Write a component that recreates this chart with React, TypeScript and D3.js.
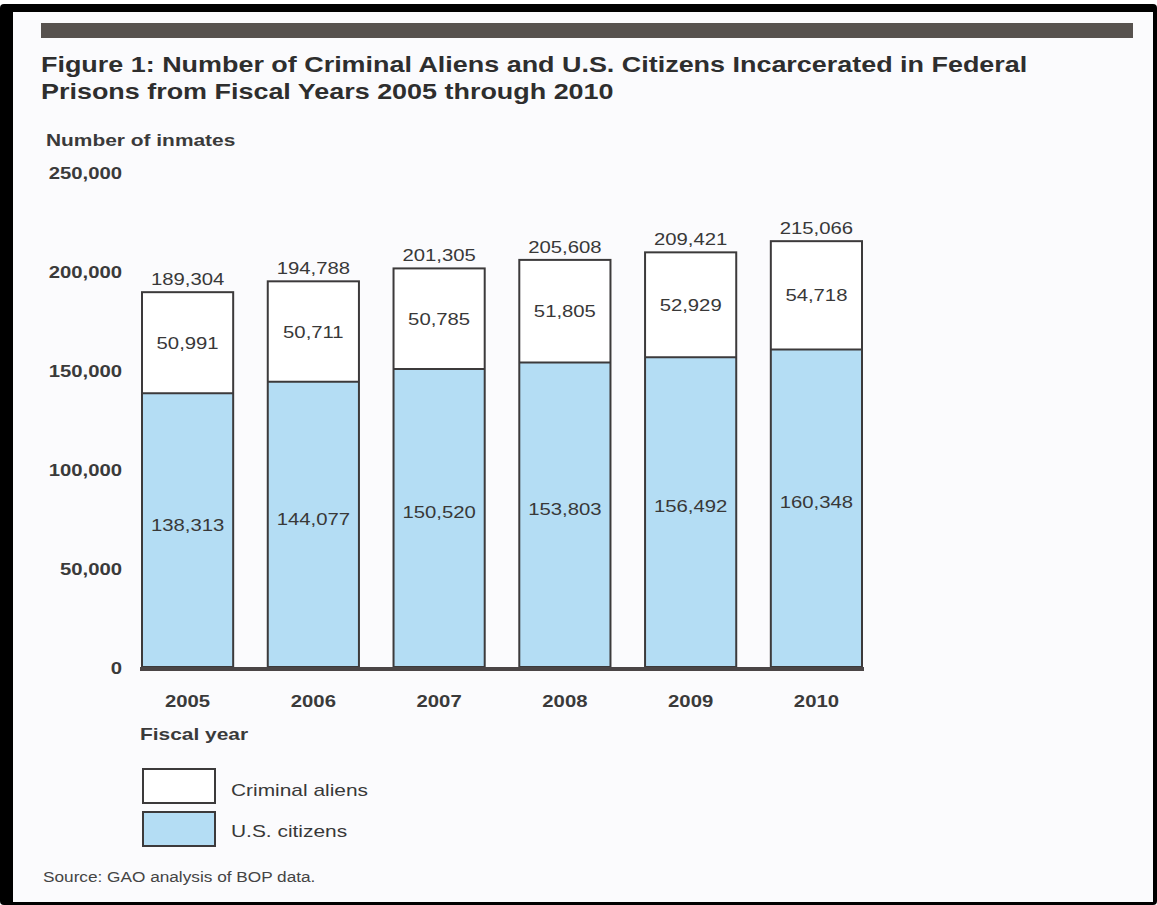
import React from "react";
import * as d3 from "d3";

const years = ["2005", "2006", "2007", "2008", "2009", "2010"];
const citizens = [138313, 144077, 150520, 153803, 156492, 160348];
const aliens = [50991, 50711, 50785, 51805, 52929, 54718];
const yTicks = [0, 50000, 100000, 150000, 200000, 250000];

const titleLines = [
  "Figure 1: Number of Criminal Aliens and U.S. Citizens Incarcerated in Federal",
  "Prisons from Fiscal Years 2005 through 2010",
];

const W = 1157;
const H = 905;
const SX = 1.23;
const FONT = "'Liberation Sans', Arial, Helvetica, sans-serif";
const TXT = "#383838";
const BLUE = "#b4ddf4";
const STROKE = "#3c3a3b";

function T({ x, y, children, size = 16, weight = 400, anchor = "start", fill = TXT }: any) {
  return (
    <text
      transform={`translate(${x},${y}) scale(${SX},1)`}
      fontFamily={FONT}
      fontSize={size}
      fontWeight={weight}
      textAnchor={anchor}
      fill={fill}
    >
      {children}
    </text>
  );
}

export default function App() {
  const y = d3.scaleLinear().domain([0, 250000]).range([667, 172]);
  const x = d3.scaleBand<string>().domain(years).range([142, 862]).paddingInner(0.275).paddingOuter(0);
  const fmt = d3.format(",");
  const bw = x.bandwidth();

  return (
    <svg width={W} height={H} style={{ position: "absolute", left: 0, top: 0, display: "block" }}>
      <rect x={0} y={0} width={W} height={H} fill="#ffffff" />
      <rect x={0} y={4} width={W} height={H - 4} fill="#000000" rx={4} />
      <rect x={13} y={12} width={1140} height={890} fill="#fbfbfd" />
      <rect x={41} y={23} width={1092} height={15} fill="#57524f" />

      {titleLines.map((t, i) => (
        <T key={t} x={41} y={72 + i * 27} size={21.9} weight={700} fill="#2e2e2e">
          {t}
        </T>
      ))}

      <T x={46} y={146} size={17} weight={700} fill="#3a3a3a">
        Number of inmates
      </T>

      {yTicks.map((v) => (
        <T key={v} x={122} y={y(v) + 7} size={16.5} weight={700} anchor="end" fill="#3a3a3a">
          {fmt(v)}
        </T>
      ))}

      {years.map((yr, i) => {
        const x0 = x(yr)!;
        const total = citizens[i] + aliens[i];
        return (
          <g key={yr}>
            <rect x={x0} y={y(citizens[i])} width={bw} height={y(0) - y(citizens[i])} fill={BLUE} />
            <rect x={x0} y={y(total)} width={bw} height={y(citizens[i]) - y(total)} fill="#ffffff" />
            <rect x={x0} y={y(total)} width={bw} height={y(0) - y(total)} fill="none" stroke={STROKE} strokeWidth={2} />
            <line x1={x0} x2={x0 + bw} y1={y(citizens[i])} y2={y(citizens[i])} stroke={STROKE} strokeWidth={2} />
            <T x={x0 + bw / 2} y={y(total) - 7} size={16.5} anchor="middle">
              {fmt(total)}
            </T>
            <T x={x0 + bw / 2} y={(y(total) + y(citizens[i])) / 2 + 6} size={16.5} anchor="middle">
              {fmt(aliens[i])}
            </T>
            <T x={x0 + bw / 2} y={y(citizens[i] * 0.52) + 6} size={16.5} anchor="middle">
              {fmt(citizens[i])}
            </T>
            <T x={x0 + bw / 2} y={707} size={16.5} weight={700} anchor="middle" fill="#3a3a3a">
              {yr}
            </T>
          </g>
        );
      })}

      <line x1={140} x2={864} y1={y(0) + 2} y2={y(0) + 2} stroke="#4a4546" strokeWidth={4} />

      <T x={140} y={740} size={17} weight={700} fill="#3a3a3a">
        Fiscal year
      </T>

      <rect x={143} y={769} width={72} height={34} fill="#ffffff" stroke={STROKE} strokeWidth={2} />
      <rect x={143} y={812} width={72} height={34} fill={BLUE} stroke={STROKE} strokeWidth={2} />
      <T x={231} y={796} size={17}>
        Criminal aliens
      </T>
      <T x={231} y={837} size={17}>
        U.S. citizens
      </T>

      <T x={43} y={882} size={14} fill="#444">
        Source: GAO analysis of BOP data.
      </T>
    </svg>
  );
}
